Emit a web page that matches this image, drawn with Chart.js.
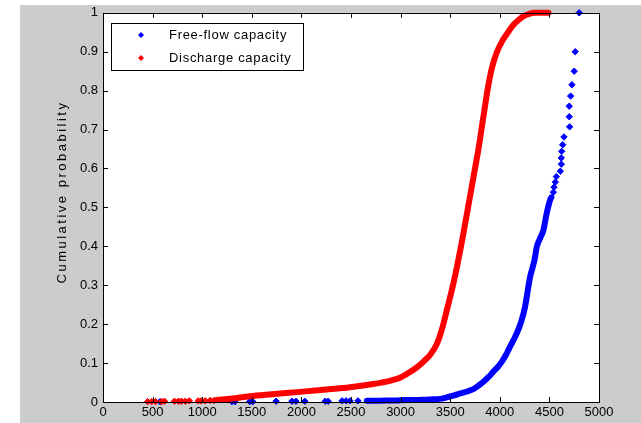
<!DOCTYPE html>
<html>
<head>
<meta charset="utf-8">
<script src="https://cdn.jsdelivr.net/npm/chart.js@4.4.1/dist/chart.umd.min.js"></script>
<style>
    body { margin: 0; background: #ffffff; }
    canvas { display: block; }
</style>
</head>
<body>
<canvas id="cdfChart" width="641" height="423"></canvas>
<script>

// discharge capacity, dense part of the curve (veh/h, cumulative probability)
const dischargeX = [1150, 1300, 1480, 1700, 1985, 2250, 2490, 2740, 2900, 3000, 3100, 3170, 3236, 3300, 3367, 3420, 3470, 3528, 3570, 3609, 3645, 3680, 3715, 3750, 3785, 3815, 3845, 3875, 3922, 3972, 4030, 4083, 4140, 4183, 4230, 4270, 4350, 4420, 4490];
const dischargeY = [0.005, 0.009, 0.015, 0.02, 0.026, 0.032, 0.038, 0.047, 0.055, 0.063, 0.078, 0.09, 0.105, 0.122, 0.15, 0.19, 0.24, 0.3, 0.35, 0.4, 0.45, 0.5, 0.55, 0.6, 0.65, 0.7, 0.75, 0.8, 0.86, 0.9, 0.93, 0.95, 0.97, 0.98, 0.99, 0.995, 1.0, 1.0, 1.0];

// discharge capacity, scattered low values
const dischargeTailX = [450, 490, 530, 590, 620, 720, 760, 790, 830, 870, 960, 990, 1030, 1080, 1120];
const dischargeTailY = [0.001, 0.001, 0.001, 0.001, 0.002, 0.002, 0.002, 0.002, 0.002, 0.003, 0.003, 0.003, 0.003, 0.004, 0.004];

// free-flow capacity, dense part
const freeFlowX = [2660, 2750, 2850, 2950, 3050, 3150, 3250, 3330, 3397, 3465, 3540, 3600, 3670, 3733, 3790, 3834, 3890, 3935, 3980, 4019, 4060, 4103, 4140, 4170, 4200, 4220, 4254, 4288, 4305, 4330, 4350, 4372, 4405, 4439, 4472, 4506, 4520];
const freeFlowY = [0.003, 0.003, 0.004, 0.004, 0.005, 0.005, 0.006, 0.007, 0.008, 0.012, 0.017, 0.022, 0.027, 0.033, 0.043, 0.052, 0.065, 0.078, 0.09, 0.103, 0.12, 0.142, 0.16, 0.176, 0.195, 0.21, 0.244, 0.296, 0.321, 0.345, 0.365, 0.398, 0.42, 0.441, 0.484, 0.518, 0.526];

// free-flow capacity, sparse upper tail
const freeFlowTopX = [4540, 4547, 4560, 4570, 4610, 4620, 4620, 4624, 4634, 4647, 4704, 4700, 4700, 4714, 4727, 4750, 4760, 4800];
const freeFlowTopY = [0.539, 0.552, 0.565, 0.579, 0.593, 0.611, 0.627, 0.644, 0.661, 0.681, 0.707, 0.733, 0.76, 0.786, 0.815, 0.85, 0.9, 1.0];

// free-flow capacity, scattered low values
const freeFlowTailX = [575, 1300, 1330, 1480, 1510, 1745, 1905, 1945, 2035, 2240, 2270, 2410, 2450, 2490, 2570];
const freeFlowTailY = [0.001, 0.001, 0.001, 0.001, 0.001, 0.002, 0.002, 0.002, 0.002, 0.002, 0.002, 0.003, 0.003, 0.003, 0.003];

const xTicks = [0, 500, 1000, 1500, 2000, 2500, 3000, 3500, 4000, 4500, 5000];
const yTicks = [0, 0.1, 0.2, 0.3, 0.4, 0.5, 0.6, 0.7, 0.8, 0.9, 1];

const legendLabels = ["Free-flow capacity", "Discharge capacity"];
const legendColors = ["#0000ff", "#ff0000"];

const FONT = "'Liberation Sans', Arial, Helvetica, sans-serif";

function toPoints(xs, ys){
    return xs.map((x, i) => ({ x: x, y: ys[i] }));
}

function markers(data, color){
    return {
        data: data,
        showLine: false,
        pointStyle: "rectRot",
        pointRadius: 3.2,
        pointBackgroundColor: color,
        pointBorderColor: color,
        pointBorderWidth: 1,
        clip: false
    };
}

function band(data, color){
    return {
        data: data,
        showLine: true,
        borderColor: color,
        borderWidth: 6,
        borderCapStyle: "round",
        borderJoinStyle: "round",
        cubicInterpolationMode: "monotone",
        pointRadius: 0,
        clip: false
    };
}

// gray figure background, white axes, box and inward ticks (matlab look)
const matlabFrame = {
    id: "matlabFrame",
    beforeDraw(chart){
        const ctx = chart.ctx;
        const a = chart.chartArea;
        ctx.save();
        ctx.fillStyle = "#ffffff";
        ctx.fillRect(0, 0, chart.width, chart.height);
        ctx.fillStyle = "#cccccc";
        ctx.fillRect(20, 5, chart.width - 20, chart.height - 5);
        ctx.fillStyle = "#ffffff";
        ctx.fillRect(a.left, a.top, a.right - a.left, a.bottom - a.top);
        ctx.restore();
    },
    afterDraw(chart){
        const ctx = chart.ctx;
        const a = chart.chartArea;
        const xs = chart.scales.x;
        const ys = chart.scales.y;
        ctx.save();
        ctx.strokeStyle = "#000000";
        ctx.lineWidth = 1;
        ctx.beginPath();
        xTicks.forEach(v => {
            const px = Math.round(xs.getPixelForValue(v)) + 0.5;
            ctx.moveTo(px, a.bottom); ctx.lineTo(px, a.bottom - 5);
            ctx.moveTo(px, a.top); ctx.lineTo(px, a.top + 5);
        });
        yTicks.forEach(v => {
            const py = Math.round(ys.getPixelForValue(v)) + 0.5;
            ctx.moveTo(a.left, py); ctx.lineTo(a.left + 5, py);
            ctx.moveTo(a.right, py); ctx.lineTo(a.right - 5, py);
        });
        ctx.stroke();
        ctx.strokeRect(Math.round(a.left) + 0.5, Math.round(a.top) + 0.5,
            Math.round(a.right - a.left), Math.round(a.bottom - a.top));

        // legend box in the top left corner
        const bx = 111, by = 23, bw = 192, bh = 47;
        ctx.fillStyle = "#ffffff";
        ctx.fillRect(bx, by, bw, bh);
        ctx.strokeRect(bx + 0.5, by + 0.5, bw, bh);
        ctx.font = "13px " + FONT;
        ctx.letterSpacing = "0.7px";
        ctx.textBaseline = "middle";
        legendLabels.forEach((label, i) => {
            const cy = by + 12 + i * 23;
            ctx.fillStyle = legendColors[i];
            ctx.beginPath();
            ctx.moveTo(141, cy - 3); ctx.lineTo(144, cy);
            ctx.lineTo(141, cy + 3); ctx.lineTo(138, cy);
            ctx.closePath();
            ctx.fill();
            ctx.fillStyle = "#000000";
            ctx.fillText(label, 169, cy);
        });

        // y axis title
        ctx.translate(62, 192);
        ctx.rotate(-Math.PI / 2);
        ctx.textAlign = "center";
        ctx.font = "13px " + FONT;
        ctx.letterSpacing = "2.5px";
        ctx.fillStyle = "#000000";
        ctx.fillText("Cumulative probability", 0, 0);
        ctx.restore();
    }
};

new Chart(document.getElementById("cdfChart"), {
    type: "scatter",
    data: {
        datasets: [
            band(toPoints(dischargeX, dischargeY), "#ff0000"),
            markers(toPoints(dischargeTailX, dischargeTailY), "#ff0000"),
            band(toPoints(freeFlowX, freeFlowY), "#0000ff"),
            markers(toPoints(freeFlowTopX, freeFlowTopY), "#0000ff"),
            markers(toPoints(freeFlowTailX, freeFlowTailY), "#0000ff")
        ]
    },
    options: {
        responsive: false,
        animation: false,
        layout: {
            padding: { left: 20, top: 12, right: 42, bottom: 0 }
        },
        plugins: {
            legend: { display: false },
            tooltip: { enabled: false }
        },
        scales: {
            x: {
                type: "linear",
                min: 0,
                max: 5000,
                afterBuildTicks: scale => { scale.ticks = xTicks.map(v => ({ value: v })); },
                afterFit: scale => { scale.height = 21; },
                grid: { display: false, drawTicks: false },
                border: { display: false },
                ticks: {
                    color: "#000000",
                    padding: 3,
                    maxRotation: 0,
                    autoSkip: false,
                    font: { family: FONT, size: 13 },
                    callback: value => String(value)
                }
            },
            y: {
                type: "linear",
                min: 0,
                max: 1,
                afterBuildTicks: scale => { scale.ticks = yTicks.map(v => ({ value: v })); },
                afterFit: scale => { scale.width = 83; },
                grid: { display: false, drawTicks: false },
                border: { display: false },
                ticks: {
                    color: "#000000",
                    padding: 5,
                    autoSkip: false,
                    font: { family: FONT, size: 13 },
                    callback: value => String(Math.round(value * 10) / 10)
                }
            }
        }
    },
    plugins: [matlabFrame]
});
</script>
</body>
</html>
